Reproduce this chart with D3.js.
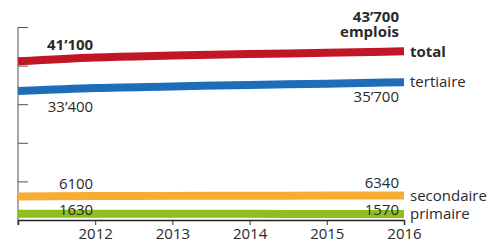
<!DOCTYPE html>
<html>
<head>
<meta charset="utf-8">
<script src="https://cdn.jsdelivr.net/npm/d3@7"></script>
<style>
  body { margin: 0; background: #fff; }
  text { font-family: "Open Sans", sans-serif; fill: #2a2a2a; font-size: 15px; }
</style>
</head>
<body>
<script>
// taille du dessin
var width = 488;
var height = 244;

// données
var years = [2011, 2012, 2013, 2014, 2015, 2016];
var total = [41100, 42100, 42600, 43000, 43300, 43700];
var tertiaire = [33400, 34200, 34600, 35000, 35300, 35700];
var secondaire = [6100, 6200, 6250, 6300, 6320, 6340];
var primaire = [1630, 1610, 1600, 1590, 1580, 1570];
var seriesNames = ["total", "tertiaire", "secondaire", "primaire"];
var startLabels = ["41’100", "33’400", "6100", "1630"];
var endLabels = ["43’700", "35’700", "6340", "1570"];
var yTicks = [0, 10000, 20000, 30000, 40000, 50000];

var colors = ["#c01626", "#1f6db6", "#f7ad33", "#8dbf1e"];
var series = [total, tertiaire, secondaire, primaire];

const margin = {left: 18, right: 84, top: 27, bottom: 24};
const innerWidth = width - margin.left - margin.right;
const innerHeight = height - margin.top - margin.bottom;

var svg = d3.select("body").append("svg")
  .attr("width", width)
  .attr("height", height);

var xScale = d3.scaleLinear().domain([2011, 2016]).range([0, innerWidth]);
var yScale = d3.scaleLinear().domain([0, 50000]).range([innerHeight, 0]);

const g = svg.append("g").attr("transform", `translate(${margin.left},${margin.top})`);

// axe y : petites graduations vers l'intérieur
var yAxis = g.append("g")
  .call(d3.axisLeft(yScale).tickValues(yTicks).tickSize(-10).tickFormat(""));
yAxis.select(".domain").remove();
yAxis.selectAll("line").attr("stroke", "#555").attr("stroke-width", 1);
g.append("line")
  .attr("x1", 0).attr("x2", 0)
  .attr("y1", 0).attr("y2", innerHeight + 5)
  .attr("stroke", "#555").attr("stroke-width", 1);

// axe x
var xAxis = g.append("g")
  .attr("transform", `translate(0,${innerHeight})`)
  .call(d3.axisBottom(xScale).tickValues(years).tickSize(5).tickPadding(3)
    .tickFormat(d => d === 2011 ? "" : d));
xAxis.select(".domain").attr("stroke", "#222").attr("stroke-width", 1.5);
xAxis.selectAll("line").attr("stroke", "#333");
xAxis.selectAll("text")
  .attr("fill", "#2a2a2a")
  .attr("font-family", null).attr("font-size", null);

// lignes
var line = d3.line()
  .x((d, i) => xScale(years[i]))
  .y(d => yScale(d))
  .curve(d3.curveMonotoneX);

g.selectAll(".serie")
  .data(series)
  .enter()
  .append("path")
  .attr("class", "serie")
  .attr("d", line)
  .attr("fill", "none")
  .attr("stroke", (d, i) => colors[i])
  .attr("stroke-width", 8);

// étiquettes de valeurs
var startDy = [-11, 21, -7.5, 1.5];
var endDy = [-29, 20, -8, 1];
var last = years.length - 1;

g.selectAll(".startLabel")
  .data(series)
  .enter()
  .append("text")
  .attr("class", "startLabel")
  .attr("x", xScale(2012) - 2)
  .attr("y", (d, i) => yScale(d[0]) + startDy[i])
  .attr("text-anchor", "end")
  .style("font-weight", (d, i) => i === 0 ? "bold" : "normal")
  .text((d, i) => startLabels[i]);

g.selectAll(".endLabel")
  .data(series)
  .enter()
  .append("text")
  .attr("class", "endLabel")
  .attr("x", xScale(2016) - 5)
  .attr("y", (d, i) => yScale(d[last]) + endDy[i])
  .attr("text-anchor", "end")
  .style("font-weight", (d, i) => i === 0 ? "bold" : "normal")
  .text((d, i) => endLabels[i]);

g.append("text")
  .attr("x", xScale(2016) - 5)
  .attr("y", yScale(total[last]) - 14)
  .attr("text-anchor", "end")
  .style("font-weight", "bold")
  .text("emplois");

// noms des séries
g.selectAll(".nom")
  .data(series)
  .enter()
  .append("text")
  .attr("class", "nom")
  .attr("x", xScale(2016) + 6)
  .attr("y", d => yScale(d[last]))
  .attr("dy", "0.35em")
  .style("font-weight", (d, i) => i === 0 ? "bold" : "normal")
  .text((d, i) => seriesNames[i]);
</script>
</body>
</html>
